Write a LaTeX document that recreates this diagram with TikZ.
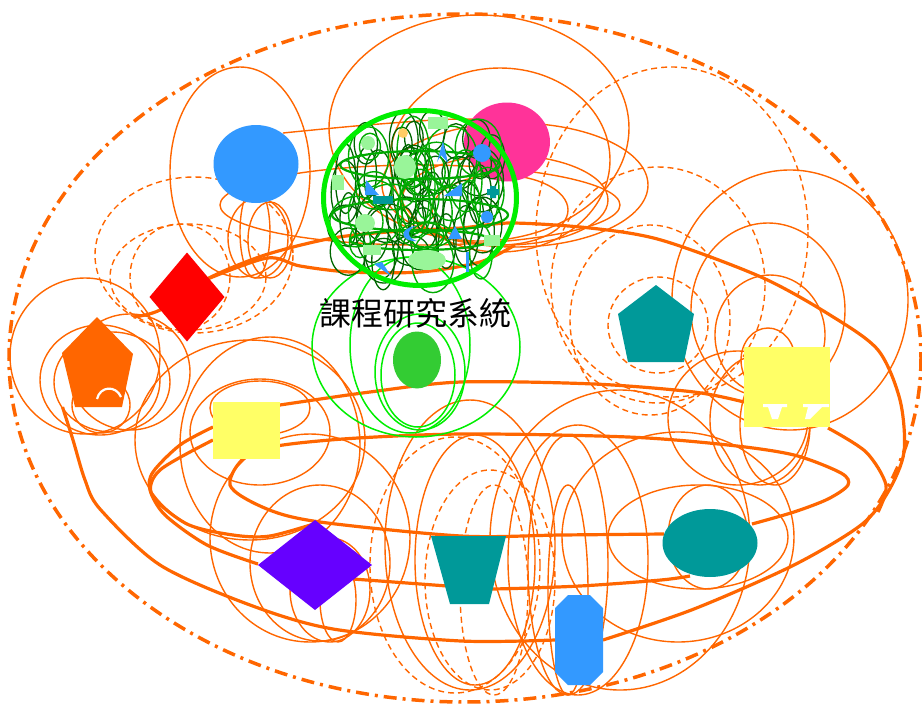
\documentclass[tikz,border=0pt]{standalone}
\usepackage{fontspec}
\newfontfamily\cjkfont{Noto Sans CJK TC}
\usetikzlibrary{shapes.geometric}

\definecolor{lineorange}{HTML}{FF6600}
\definecolor{blueone}{HTML}{3399FF}
\definecolor{pinkone}{HTML}{FF3399}
\definecolor{tealone}{HTML}{009999}
\definecolor{yellowone}{HTML}{FFFF66}
\definecolor{purpleone}{HTML}{6600FF}
\definecolor{leafgreen}{HTML}{33CC33}
\definecolor{ringgreen}{HTML}{00EE00}
\definecolor{darkgreen}{HTML}{006600}
\definecolor{midgreen}{HTML}{00AA00}
\definecolor{palegreen}{HTML}{99F599}
\definecolor{paleorange}{HTML}{FFCC66}

\tikzset{
  thickedge/.style={draw=lineorange, line width=3.2pt},
  thinedge/.style={draw=lineorange, line width=1.4pt},
  selfloop/.style={draw=lineorange, line width=1.4pt},
  dashloop/.style={selfloop, dash pattern=on 6pt off 4pt},
  greenloop/.style={draw=ringgreen, line width=1.5pt},
  darkloop/.style={draw=darkgreen, line width=1.3pt},
  midloop/.style={draw=midgreen, line width=1.4pt},
  shapenode/.style={inner sep=0pt, outer sep=0pt, draw=none},
}

\begin{document}
\begin{tikzpicture}[x=1pt, y=-1pt]
\useasboundingbox (0,0) rectangle (922,705);

% outer loop
\draw[lineorange, line width=3.5pt, dash pattern=on 13pt off 6pt on 3pt off 6pt]
  (465,358) ellipse [x radius=456, y radius=344];

% place holders for the polygon shapes
\node[shapenode, minimum width=71, minimum height=90] (penta) at (98,362) {};
\node[shapenode, minimum width=76, minimum height=77] (tealpenta) at (656,323) {};
\node[shapenode, minimum width=75, minimum height=68] (trap) at (468,570) {};
\node[shapenode, minimum width=48, minimum height=90] (octa) at (579,640) {};

% thin self loops
\foreach \cx/\cy/\rx/\ry in {240/172/70/105, 258/238/30/40, 255/232/15/46, 270/240/22/38,
    479/128/150/113, 500/160/110/92, 515/185/133/62, 505/200/103/45, 500/210/68/35, 420/205/200/40,
    790/300/118/130, 768/310/77/87, 770/335/55/60, 768/360/27/32,
    738/418/70/67, 760/420/50/65, 775/425/35/60,
    85/356/75/78, 100/380/60/55, 112/382/58/50, 101/405/29/28, 130/372/60/58,
    260/432/70/53, 260/408/50/27, 250/440/115/100, 270/445/90/108,
    310/538/100/104, 320/563/70/78, 330/590/40/52, 338/600/18/42,
    470/545/85/145, 475/560/60/125,
    578/560/70/135, 568/565/40/130, 568/590/20/105,
    678/537/116/105, 620/540/130/150, 698/537/90/52, 708/537/40/52}
  \draw[selfloop] (\cx,\cy) ellipse [x radius=\rx, y radius=\ry];

% dashed loops
\foreach \cx/\cy/\rx/\ry in {672/232/136/165, 658/285/107/118, 650/320/80/95, 658/325/50/48,
    194/255/99/78, 188/277/78/53, 180/277/50/53,
    455/565/85/128, 490/580/65/110, 494/590/34/105}
  \draw[dashloop] (\cx,\cy) ellipse [x radius=\rx, y radius=\ry];

% thick connectors
\draw[thickedge] plot[smooth] coordinates {(penta.north east) (160,310) (207,279) (265,255)
  (333,238) (400,231) (461,228) (511,223) (590,228) (661,240) (761,277) (830,315) (878,350)
  (900,400) (904,452) (888,492) (861,525) (794,565) (694,609) (octa.east)};
\draw[thickedge] plot[smooth] coordinates {(penta.south west) (73,440) (85,480) (100,509)
  (160,565) (250,605) (333,629) (461,641) (octa.west)};
\draw[thickedge] plot[smooth] coordinates {(752,524) (794,512) (828,499) (848,485) (841,473)
  (794,455) (728,445) (628,437) (461,434) (330,440) (253,452) (230,485) (267,509) (320,522)
  (461,536) (561,535) (664,534)};
\draw[thickedge] plot[smooth] coordinates {(280,405) (370,392) (461,382) (594,384) (694,392) (744,402)};
\draw[thickedge] plot[smooth] coordinates {(213,427) (180,445) (153,472) (150,490) (165,515) (207,545) (258,564)};
\draw[thickedge] plot[smooth] coordinates {(213,440) (160,470) (152,495) (187,524) (233,535) (270,536) (320,522)};
\draw[thickedge] plot[smooth] coordinates {(353,579) (461,587) (491,589) (580,586) (661,580) (690,576)};
\draw[thickedge] plot[smooth] coordinates {(828,428) (866,452) (886,485) (878,512)};
\draw[thickedge] plot[smooth] coordinates {(205,280) (267,258) (300,266) (350,272) (420,272) (480,262) (515,245)};
\draw[thinedge] plot[smooth] coordinates {(283,133) (367,125) (460,119) (544,123)};

% nodes
\node[shapenode, ellipse, fill=blueone, minimum width=85, minimum height=78] (bluecirc) at (256,164) {};
\node[shapenode, ellipse, fill=pinkone, minimum width=86, minimum height=79] (pinkcirc) at (507,142) {};
\node[shapenode, diamond, fill=red, minimum width=75, minimum height=89] (reddia) at (187,297) {};
\fill[lineorange] (97,317) -- (133,354) -- (122,407) -- (75,407) -- (62,353) -- cycle;
\draw[white, line width=2.2pt] (97,399) .. controls (100,386) and (116,385) .. (121,397);
\fill[tealone] (656,285) -- (694,314) -- (684,362) -- (628,362) -- (618,314) -- cycle;
\node[shapenode, rectangle, fill=yellowone, minimum width=86, minimum height=80] (yellowB) at (787,387) {};
\fill[white] (763,404) -- (787,404) -- (787,407) -- (782,407) -- (778,419) -- (772,419) -- (768,407) -- (763,407) -- cycle;
\fill[white] (803,404) -- (829,404) -- (829,407) -- (822,407) -- (810,419) -- (805,419) -- (808,407) -- (803,407) -- cycle;
\node[shapenode, rectangle, fill=yellowone, minimum width=67, minimum height=57] (yellowA) at (246,430) {};
\node[shapenode, diamond, fill=purpleone, minimum width=114, minimum height=90] (purpdia) at (315,565) {};
\fill[tealone] (431,536) -- (506,536) -- (489,604) -- (450,604) -- cycle;
\node[shapenode, ellipse, fill=tealone, minimum width=95, minimum height=68] (tealell) at (710,543) {};
\fill[blueone] (568,595) -- (590,595) -- (603,608) -- (603,672) -- (590,685) -- (568,685) -- (555,672) -- (555,608) -- cycle;

% green loops of the small node
\foreach \cx/\cy/\rx/\ry in {416/347/104/90, 410/345/60/88, 418/375/37/52, 420/372/45/58}
  \draw[greenloop] (\cx,\cy) ellipse [x radius=\rx, y radius=\ry];
\node[shapenode, ellipse, fill=leafgreen, minimum width=48, minimum height=57] (leaf) at (417,360) {};

% inner loops of the cluster
\pgfmathsetseed{31}
\foreach \i in {1,...,44}{
  \pgfmathsetmacro\cx{420+150*(rnd-0.5)}
  \pgfmathsetmacro\cy{200+140*(rnd-0.5)}
  \pgfmathsetmacro\rx{8+14*rnd}
  \pgfmathsetmacro\ry{14+22*rnd}
  \draw[darkloop] (\cx,\cy) ellipse [x radius=\rx, y radius=\ry];
}
\foreach \i in {1,...,26}{
  \pgfmathsetmacro\cx{420+140*(rnd-0.5)}
  \pgfmathsetmacro\cy{200+130*(rnd-0.5)}
  \pgfmathsetmacro\rx{10+18*rnd}
  \pgfmathsetmacro\ry{12+26*rnd}
  \draw[midloop] (\cx,\cy) ellipse [x radius=\rx, y radius=\ry];
}
\foreach \cy/\rx/\ry in {165/80/14, 215/88/16, 240/70/10}
  \draw[midloop, line width=2.2pt] (420,\cy) ellipse [x radius=\rx, y radius=\ry];

% cluster ring
\node[shapenode, ellipse, draw=ringgreen, line width=5pt, minimum width=193, minimum height=175] (cluster) at (420,198) {};

% small shapes in the cluster
\fill[palegreen] (428,117) rectangle (448,129);
\fill[paleorange] (403,133) circle [radius=5];
\fill[palegreen] (368,143) circle [radius=7];
\fill[blueone] (443,141) -- (448,163) -- (441,155) -- (437,162) -- cycle;
\fill[palegreen] (405,167) ellipse [x radius=11, y radius=12];
\fill[blueone] (482,153) circle [radius=9];
\fill[palegreen] (332,175) rectangle (344,190);
\fill[blueone] (366,180) -- (379,195) -- (365,195) -- cycle;
\fill[tealone] (373,196) rectangle (393,204);
\fill[blueone] (462,183) -- (462,196) -- (444,196) -- cycle;
\fill[tealone] (490,186) rectangle (496,198) (487,189) rectangle (499,195);
\fill[blueone] (487,217) circle [radius=6];
\fill[palegreen] (365,223) ellipse [x radius=10, y radius=9];
\fill[blueone] (416,226) .. controls (398,228) and (400,242) .. (417,241) .. controls (407,238) and (406,230) .. cycle;
\fill[blueone] (455,226) -- (462,239) -- (448,239) -- cycle;
\fill[palegreen] (363,245) rectangle (381,255);
\fill[palegreen] (484,235) rectangle (500,246);
\fill[palegreen] (427,260) ellipse [x radius=19, y radius=10];
\fill[blueone] (466,252) rectangle (469,272);
\fill[blueone] (374,264) -- (382,262) -- (391,276) -- cycle;

% label
\node[font=\cjkfont\fontsize{32}{32}\selectfont] (title) at (415,313) {課程研究系統};
\end{tikzpicture}
\end{document}
